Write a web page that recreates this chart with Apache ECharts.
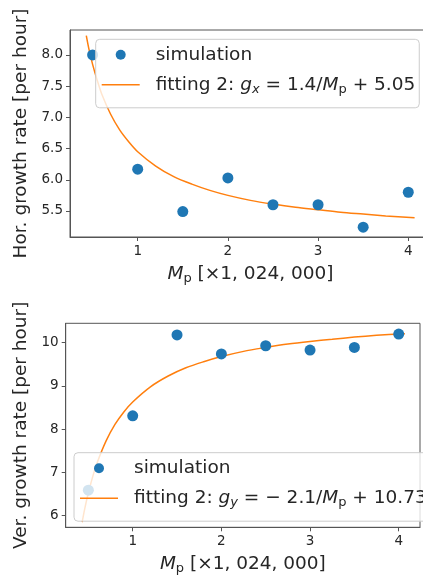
<!DOCTYPE html>
<html>
<head>
<meta charset="utf-8">
<script src="https://cdn.jsdelivr.net/npm/echarts@6/dist/echarts.min.js"></script>
<style>
  html, body { margin: 0; padding: 0; background: #fff; }
  #chart { width: 423px; height: 578px; }
</style>
</head>
<body>
<div id="chart"></div>
<script>
// simulation points (M_p in units of 1,024,000)
const mp = [0.5, 1, 1.5, 2, 2.5, 3, 3.5, 4];
const horRate = [8.0, 6.17, 5.49, 6.03, 5.6, 5.6, 5.24, 5.8];
const verRate = [6.59, 8.31, 10.18, 9.74, 9.93, 9.83, 9.89, 10.2];

// fitted curves
const fitX   = [0.43, 0.46, 0.5, 0.55, 0.6, 0.7, 0.8, 0.9, 1.0, 1.2, 1.4, 1.6, 1.8, 2.0, 2.25, 2.5, 2.75, 3.0, 3.25, 3.5, 3.75, 4.07];
const fitHor = [8.31, 8.09, 7.85, 7.60, 7.38, 7.05, 6.80, 6.61, 6.45, 6.22, 6.05, 5.93, 5.83, 5.75, 5.67, 5.61, 5.56, 5.52, 5.48, 5.45, 5.42, 5.39];
const fitVer = [5.85, 6.17, 6.53, 6.91, 7.23, 7.73, 8.11, 8.40, 8.63, 8.98, 9.23, 9.42, 9.56, 9.68, 9.80, 9.89, 9.97, 10.03, 10.08, 10.13, 10.17, 10.21];

const horTicks = [5.5, 6.0, 6.5, 7.0, 7.5, 8.0];
const verTicks = [6, 7, 8, 9, 10];
const xTicks = [1, 2, 3, 4];

const blue = '#1f77b4';
const orange = '#ff7f0e';
const txt = '#262626';
const spine = '#555';
const FONT = 'DejaVu Sans';

const rich = {
  n: { fontFamily: FONT, fontSize: 18.5, color: txt },
  i: { fontFamily: FONT, fontSize: 18.5, color: txt, fontStyle: 'italic' },
  si: { fontFamily: FONT, fontSize: 13, color: txt, fontStyle: 'italic', padding: [9, 0, 0, 0] },
  s: { fontFamily: FONT, fontSize: 13, color: txt, padding: [9, 0, 0, 0] }
};

const pairs = (xs, ys) => xs.map((x, k) => [x, ys[k]]);

function xAxisOf(idx, min, max) {
  return {
    gridIndex: idx, type: 'value', min: min, max: max,
    name: '{i|M}{s|p}{n| [×1, 024, 000]}',
    nameLocation: 'middle', nameGap: 26,
    nameTextStyle: { rich: rich },
    axisLine: { show: true, lineStyle: { color: spine } },
    axisTick: { show: true, inside: false, length: 4, lineStyle: { color: spine }, customValues: xTicks },
    axisLabel: { color: txt, fontFamily: FONT, fontSize: 13.5, margin: 7, customValues: xTicks },
    splitLine: { show: false }
  };
}

function yAxisOf(idx, min, max, ticks, name, gap, dec) {
  return {
    gridIndex: idx, type: 'value', min: min, max: max,
    name: '{n|' + name + '}',
    nameLocation: 'middle', nameGap: gap,
    nameTextStyle: { rich: rich },
    axisLine: { show: true, lineStyle: { color: spine } },
    axisTick: { show: true, inside: false, length: 4, lineStyle: { color: spine }, customValues: ticks },
    axisLabel: {
      color: txt, fontFamily: FONT, fontSize: 13.5, margin: 7, customValues: ticks,
      formatter: v => v.toFixed(dec)
    },
    splitLine: { show: false }
  };
}

const lineIcon = 'path://M0,0h38v1.6h-38z';

const legendBase = {
  orient: 'vertical',
  itemWidth: 38, itemHeight: 10, itemGap: 11,
  backgroundColor: 'rgba(255,255,255,0.8)',
  borderColor: '#ccc', borderWidth: 1, borderRadius: 4,
  textStyle: { color: txt, fontFamily: FONT, fontSize: 18.5, padding: [0, 0, 0, 11], rich: rich },
  z: 10
};

const chart = echarts.init(document.getElementById('chart'), null, { renderer: 'canvas' });
chart.setOption({
  animation: false,
  grid: [
    // the top panel's right spine sits just past the picture's edge
    { left: 70, top: 30, width: 361, height: 207, outerBoundsMode: 'none', show: true, borderColor: spine, borderWidth: 1, backgroundColor: 'transparent' },
    { left: 65.7, top: 323.3, width: 354.3, height: 204, outerBoundsMode: 'none', show: true, borderColor: spine, borderWidth: 1, backgroundColor: 'transparent' }
  ],
  xAxis: [xAxisOf(0, 0.2494, 4.252), xAxisOf(1, 0.2444, 4.24)],
  yAxis: [
    yAxisOf(0, 5.083, 8.40, horTicks, 'Hor. growth rate [per hour]', 37, 1),
    yAxisOf(1, 5.732, 10.449, verTicks, 'Ver. growth rate [per hour]', 30, 0)
  ],
  legend: [
    Object.assign({}, legendBase, {
      left: 95.7, top: 39.3, padding: [6, 4, 12, 6],
      data: [{ name: 'simulation', icon: 'circle' }, { name: 'fitH', icon: lineIcon }],
      formatter: n => n === 'fitH'
        ? '{n|fitting 2: }{i|g}{si|x}{n| = 1.4/}{i|M}{s|p}{n| + 5.05}'
        : '{n|' + n + '}'
    }),
    Object.assign({}, legendBase, {
      left: 74, top: 452.7, padding: [6, 8, 12, 6],
      data: [{ name: 'simulation ', icon: 'circle' }, { name: 'fitV', icon: lineIcon }],
      formatter: n => n === 'fitV'
        ? '{n|fitting 2: }{i|g}{si|y}{n| = − 2.1/}{i|M}{s|p}{n| + 10.73}'
        : '{n|simulation}'
    })
  ],
  series: [
    {
      name: 'simulation', type: 'scatter', xAxisIndex: 0, yAxisIndex: 0,
      data: pairs(mp, horRate), symbolSize: 11, itemStyle: { color: blue, opacity: 1 }, z: 3
    },
    {
      name: 'fitH', type: 'line', xAxisIndex: 0, yAxisIndex: 0,
      data: pairs(fitX, fitHor), smooth: 0.3, symbol: 'none',
      lineStyle: { color: orange, width: 1.5 }, itemStyle: { color: orange }, z: 2
    },
    {
      name: 'simulation ', type: 'scatter', xAxisIndex: 1, yAxisIndex: 1,
      data: pairs(mp, verRate), symbolSize: 11, itemStyle: { color: blue, opacity: 1 }, z: 3
    },
    {
      name: 'fitV', type: 'line', xAxisIndex: 1, yAxisIndex: 1,
      data: pairs(fitX, fitVer), smooth: 0.3, symbol: 'none',
      lineStyle: { color: orange, width: 1.5 }, itemStyle: { color: orange }, z: 2
    }
  ]
});
</script>
</body>
</html>
